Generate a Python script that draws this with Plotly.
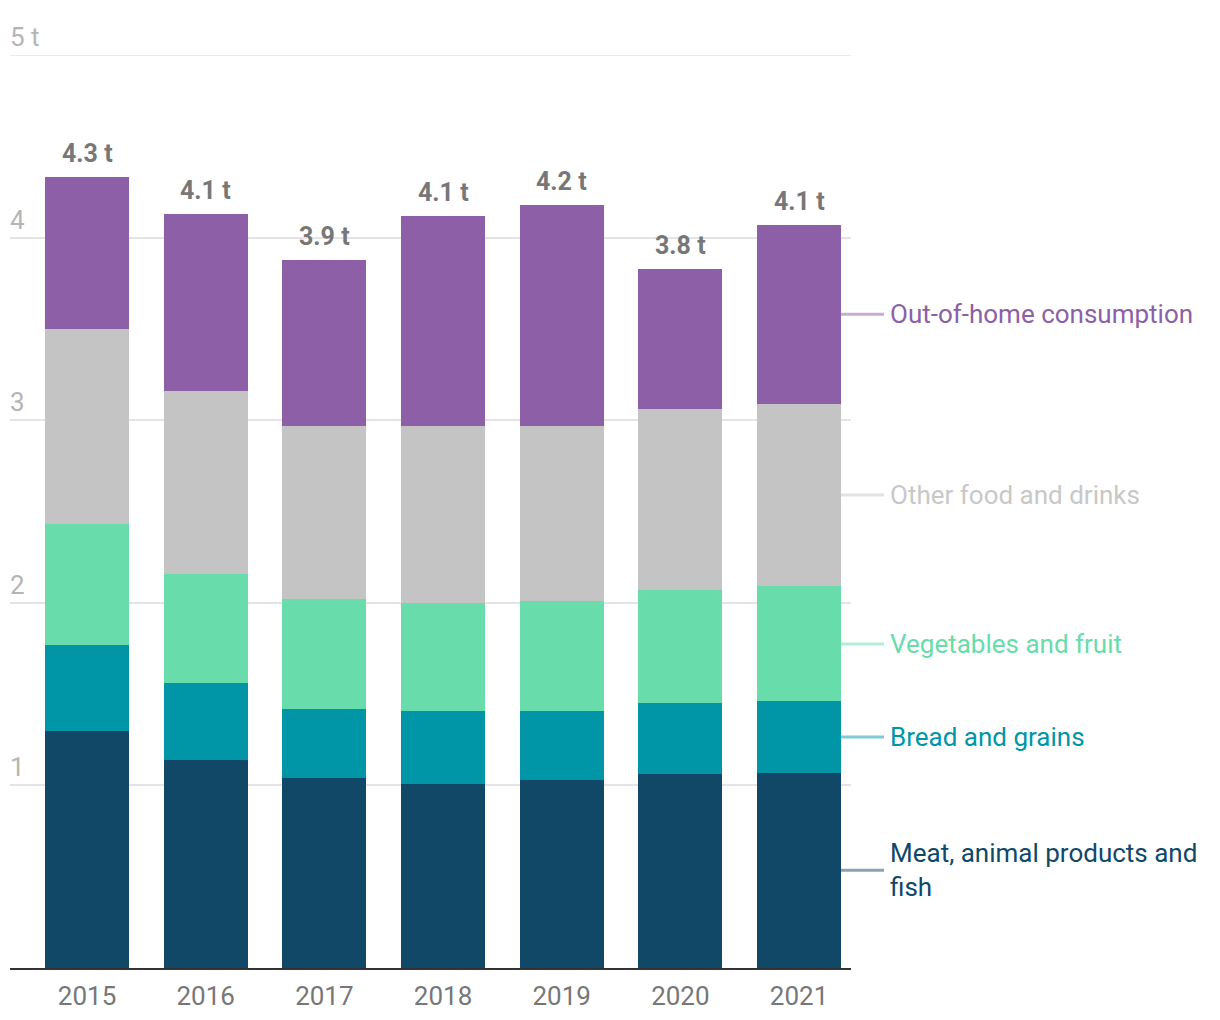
import plotly.graph_objects as go

years = ["2015", "2016", "2017", "2018", "2019", "2020", "2021"]
meat = [1.30, 1.14, 1.04, 1.01, 1.03, 1.06, 1.07]
bread = [0.47, 0.42, 0.38, 0.40, 0.38, 0.39, 0.39]
veg = [0.66, 0.60, 0.60, 0.59, 0.60, 0.62, 0.63]
other = [1.07, 1.00, 0.95, 0.97, 0.96, 0.99, 1.00]
outhome = [0.83, 0.97, 0.91, 1.15, 1.21, 0.77, 0.98]

series_names = ["Meat, animal products and<br>fish", "Bread and grains", "Vegetables and fruit",
                "Other food and drinks", "Out-of-home consumption"]
series_values = [meat, bread, veg, other, outhome]
bar_colors = ["#114868", "#0096a8", "#68dcaa", "#c4c4c4", "#8c5fa6"]
text_colors = ["#114868", "#0096a8", "#68dcaa", "#c8c8c8", "#8c5fa6"]
line_colors = ["#8aa2b3", "#80cbd4", "#b4eed5", "#e2e2e2", "#c5aed4"]

ytick_vals = [1, 2, 3, 4, 5]
ytick_text = ["1", "2", "3", "4", "5 t"]
YMAX = 5

FONT = "Roboto"
FS = 26

fig = go.Figure()
for name, vals, col in zip(series_names, series_values, bar_colors):
    fig.add_trace(go.Bar(x=years, y=vals, name=name, marker=dict(color=col, line=dict(width=0)),
                         hoverinfo="skip"))

totals = [sum(v) for v in zip(*series_values)]
annotations = []
for i, t in enumerate(totals):
    annotations.append(dict(x=i, y=t, xref="x", yref="y", text=f"<b>{t:.1f} t</b>",
                            showarrow=False, yanchor="bottom", yshift=7,
                            font=dict(family=FONT, size=25, color="#777777")))

for v, t in zip(ytick_vals, ytick_text):
    annotations.append(dict(x=0, y=v, xref="paper", yref="y", text=t, showarrow=False,
                            xanchor="left", yanchor="bottom", yshift=1, xshift=-2,
                            font=dict(family=FONT, size=FS, color="#b5b5b5")))

# page offset of 8px (body margin)
OFF = 8
W, H = 1220 - OFF, 1020 - OFF
plot_left, plot_right = 10 - OFF, 851 - OFF
plot_top, plot_bottom = 55 - OFF, 968 - OFF
pw = plot_right - plot_left

# Right-side labels at middle of last bar's segments
last = [vals[-1] for vals in series_values]
cum = 0
shapes = [dict(type="line", xref="paper", yref="y", x0=0, x1=1, y0=YMAX, y1=YMAX,
               line=dict(color="#e4e4e4", width=1.5), layer="below")]
x0p = (841 - OFF - plot_left) / pw
x1p = (884 - OFF - plot_left) / pw
xtp = (888 - OFF - plot_left) / pw
for name, v, tc, lc in zip(series_names, last, text_colors, line_colors):
    mid = cum + v / 2
    cum += v
    yp = mid / YMAX
    shapes.append(dict(type="line", xref="paper", yref="paper", x0=x0p, x1=x1p, y0=yp, y1=yp,
                       line=dict(color=lc, width=3)))
    annotations.append(dict(x=xtp, y=yp, xref="paper", yref="paper", text=name, showarrow=False,
                            xanchor="left", yanchor="middle", align="left",
                            font=dict(family=FONT, size=FS, color=tc)))

fig.update_layout(
    barmode="stack",
    bargap=0.292,
    width=W, height=H,
    margin=dict(l=plot_left, r=W - plot_right, t=plot_top, b=H - plot_bottom),
    plot_bgcolor="white", paper_bgcolor="white",
    showlegend=False,
    annotations=annotations,
    shapes=shapes,
    font=dict(family=FONT),
    xaxis=dict(type="category", range=[-0.649, 6.438], showgrid=False, zeroline=False,
               showline=True, linecolor="#333333", linewidth=2,
               ticks="outside", ticklen=4, tickcolor="rgba(0,0,0,0)",
               tickfont=dict(family=FONT, size=FS, color="#777777")),
    yaxis=dict(range=[0, YMAX], tickvals=ytick_vals, showticklabels=False, showgrid=True,
               gridcolor="#e4e4e4", gridwidth=1.5, zeroline=False, showline=False),
)

fig.write_html("out.html")
